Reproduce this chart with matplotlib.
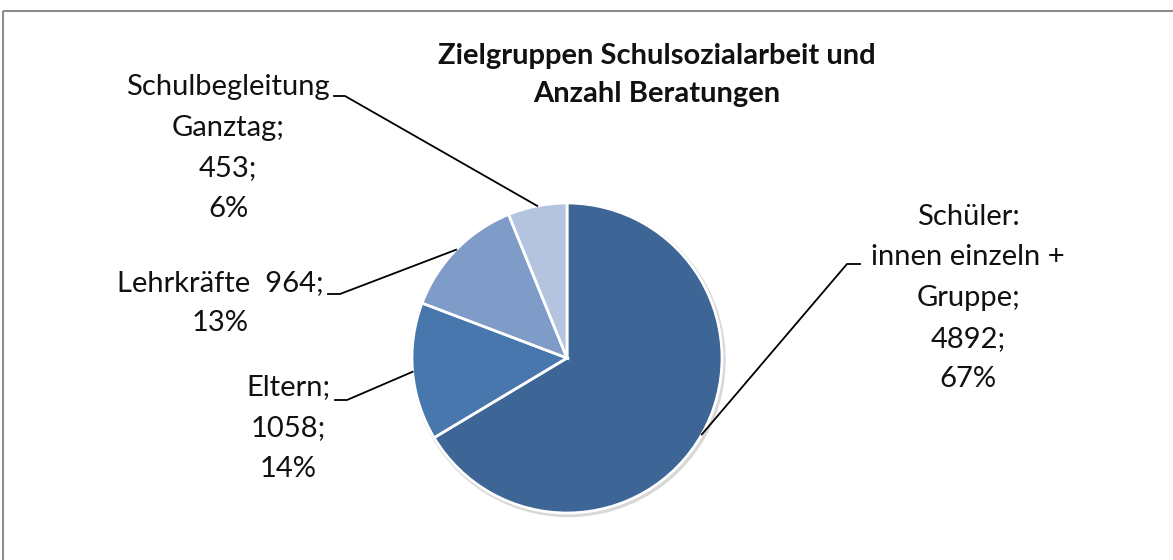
import numpy as np
import matplotlib
matplotlib.use("Agg")
import matplotlib.pyplot as plt
from matplotlib.patches import Rectangle, Circle

plt.rcParams['font.family'] = ['Lato', 'DejaVu Sans']

# ---- data ----
categories = ["Schüler:\ninnen einzeln +\nGruppe", "Eltern", "Lehrkräfte ", "Schulbegleitung\nGanztag"]
values = [4892, 1058, 964, 453]
percents = [67, 14, 13, 6]
colors = ["#3D6595", "#4877AE", "#7F9BC7", "#B4C3DE"]
title = "Zielgruppen Schulsozialarbeit und\nAnzahl Beratungen"

W, H = 1173, 560
fig = plt.figure(figsize=(W / 100, H / 100), dpi=100)
ax = fig.add_axes([0, 0, 1, 1])

cx, cy, r = 567, 358, 155
# subtle shadow
ax.add_patch(Circle((cx + 1.5, cy + 2), r + 1.5, color="#D8D8D8", zorder=1))

wedges, _ = ax.pie(values, colors=colors, startangle=-90, counterclock=True,
                   center=(cx, cy), radius=r, frame=True,
                   wedgeprops=dict(edgecolor="white", linewidth=2, zorder=2))
ax.set_xlim(0, W)
ax.set_ylim(H, 0)
ax.set_aspect('equal')
ax.axis('off')

# frame
ax.add_patch(Rectangle((3, 11), W + 20, H + 20, fill=False, edgecolor="#8C8C8C", lw=1.5))

# label layout: text center, line-end position, elbow (layout only)
label_layout = [
    dict(tx=968, ty=298, end=(860, 264), elbow=(847, 264)),
    dict(tx=288, ty=428, end=(335, 400), elbow=(347, 400)),
    dict(tx=220, ty=303, end=(328, 294), elbow=(340, 294)),
    dict(tx=228, ty=148, end=(334, 96), elbow=(345, 96)),
]

for w, cat, val, pct, lay in zip(wedges, categories, values, percents, label_layout):
    ang = np.deg2rad((w.theta1 + w.theta2) / 2)
    ax_x = cx + r * np.cos(ang)
    ax_y = cy + r * np.sin(ang)
    if cat.startswith("Lehrkr"):
        txt = f"{cat} {val};\n{pct}%"
    else:
        txt = f"{cat};\n{val};\n{pct}%"
    ax.text(lay['tx'], lay['ty'], txt, ha='center', va='center', fontsize=21,
            color="#111111", linespacing=1.7, zorder=5)
    ex, ey = lay['elbow']
    px, py = lay['end']
    ax.plot([ax_x, ex, px], [ax_y, ey, py], color="black", lw=1.3, zorder=4)

ax.text(657, 75, title, ha='center', va='center', fontsize=21, fontweight='bold',
        color="#111111", linespacing=1.53)

fig.savefig("out.png", dpi=100)
